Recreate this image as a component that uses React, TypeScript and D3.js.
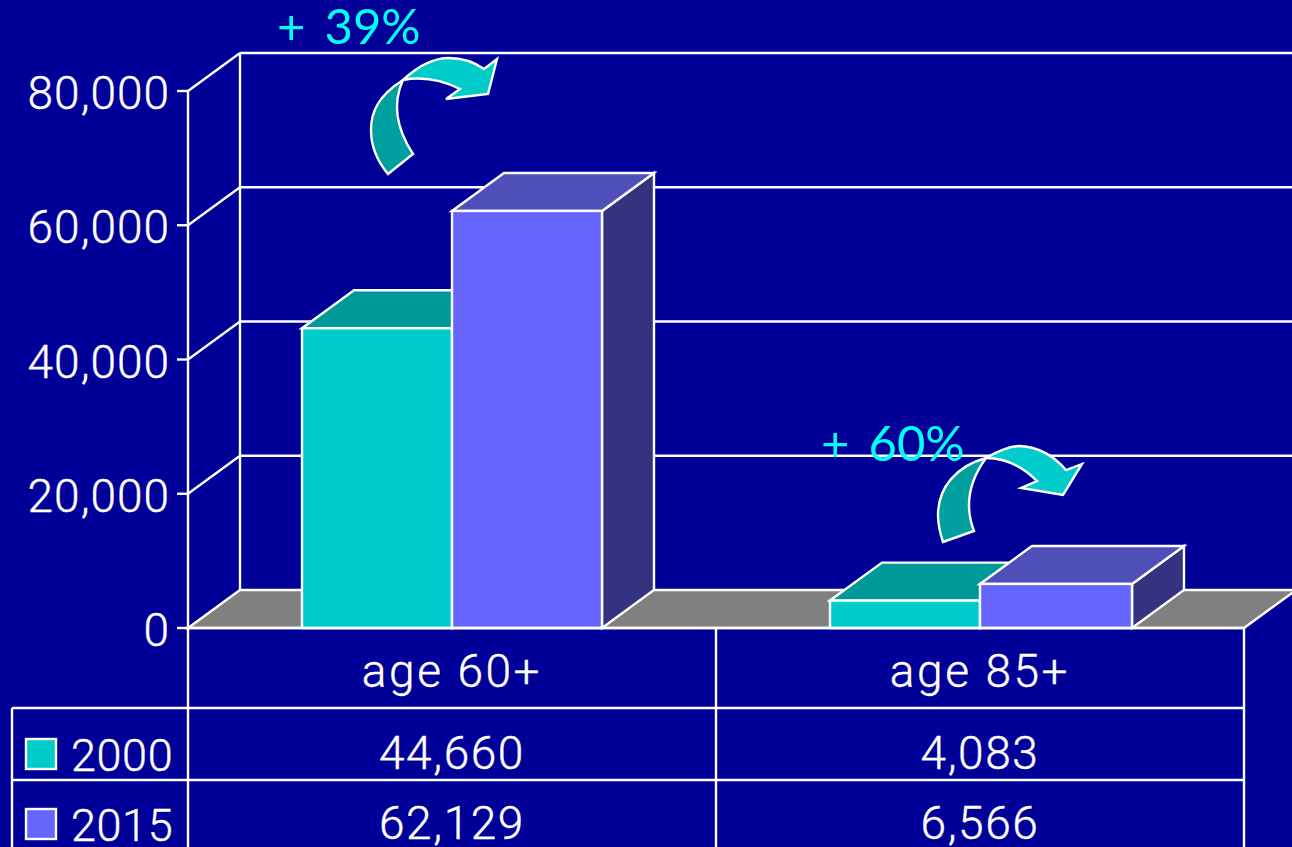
import React from "react";
import * as d3 from "d3";

const categories = ["age 60+", "age 85+"];
const seriesNames = ["2000", "2015"];
const values2000 = [44660, 4083];
const values2015 = [62129, 6566];
const yTicks = [0, 20000, 40000, 60000, 80000];
const annotations = ["+  39%", "+  60%"];

const BG = "#000099";
const FRONT = ["#00CCCC", "#6666FF"];
const TOP = ["#009999", "#4F4FB9"];
const SIDE = ["#006666", "#33337F"];
const FONT = "Roboto, sans-serif";

const W = 1292, H = 847;
const DX = 52, DY = -38;
const y = d3.scaleLinear().domain([0, 80000]).range([628, 91]);
const x0 = d3.scaleBand<string>().domain(categories).range([188, 1244]);
const barW = 150;
const fmt = d3.format(",");
const series = [values2000, values2015];

const poly = (pts: [number, number][]) => (d3.line()(pts) ?? "") + "Z";

const arrow1Dark = "M388,174 L413,154 C396,128 392,104 403,80 C378,96 371,112 371,130 C371,146 378,162 388,174Z";
const arrow1Light = "M403,80 C418,66 432,58 449,58 C462,58 474,62 484,69 L497,59 L488,94 L446,99 L460,89 C444,81 424,76 403,80Z";
const arrow2Dark = "M943,542 L974,531 C964,505 970,480 986,458 C956,466 938,488 938,515 C938,524 940,533 943,542Z";
const arrow2Light = "M986,458 C1000,450 1010,446 1020,446 C1038,447 1054,456 1066,470 L1082,464 L1063,495 L1021,488 L1037,481 C1022,466 1006,458 986,458Z";

export default function App() {
  const stroke = { stroke: "#fff", strokeWidth: 2.4 };
  const rowY = [628, 708, 780, 847];
  const xL = x0.range()[0], xR = x0.range()[1];
  return (
    <svg width={W} height={H} viewBox={`0 0 ${W} ${H}`}
      style={{ position: "fixed", left: 0, top: 0, display: "block", background: BG }} fontFamily={FONT} fontWeight={300}>
      <rect width={W} height={H} fill={BG} />
      <path d={poly([[xL, y(0)], [xL + DX, y(0) + DY], [xR + DX, y(0) + DY], [xR, y(0)]])} fill="#808080" {...stroke} />
      <line x1={xL + DX} x2={xL + DX} y1={y(80000) + DY} y2={y(0) + DY} {...stroke} />
      {yTicks.map(t => (
        <g key={t}>
          {t > 0 && <line x1={xL + DX} x2={W} y1={y(t) + DY} y2={y(t) + DY} {...stroke} />}
          {t > 0 && <line x1={xL} x2={xL + DX} y1={y(t)} y2={y(t) + DY} {...stroke} />}
          <line x1={xL - 11} x2={xL} y1={y(t)} y2={y(t)} {...stroke} />
          <text x={170} y={y(t) + 18} textAnchor="end" fontSize={46} letterSpacing={1} fill="#fff" stroke="#fff" strokeWidth={0.4}>{fmt(t)}</text>
        </g>
      ))}
      <line x1={xL} x2={xL} y1={y(80000)} y2={H} {...stroke} />
      {categories.map((c, ci) => {
        const cx = x0(c)! + x0.bandwidth() / 2;
        return (
          <g key={c}>
            {series.map((s, si) => {
              const l = cx + (si - 1) * barW, r = l + barW + (ci === 1 && si === 1 ? 2 : 0);
              const t = y(s[ci]), b = y(0);
              return (
                <g key={si}>
                  <path d={poly([[r, b], [r + DX, b + DY], [r + DX, t + DY], [r, t]])} fill={SIDE[si]} {...stroke} />
                  <path d={poly([[l, t], [l + DX, t + DY], [r + DX, t + DY], [r, t]])} fill={TOP[si]} {...stroke} />
                  <rect x={l} y={t} width={r - l} height={b - t} fill={FRONT[si]} {...stroke} />
                </g>
              );
            })}
          </g>
        );
      })}
      <line x1={xL} x2={xR} y1={rowY[0]} y2={rowY[0]} {...stroke} />
      <line x1={12} x2={xR} y1={rowY[1]} y2={rowY[1]} {...stroke} />
      <line x1={12} x2={xR} y1={rowY[2]} y2={rowY[2]} {...stroke} />
      <line x1={12} x2={12} y1={rowY[1]} y2={H} {...stroke} />
      <line x1={x0(categories[1])} x2={x0(categories[1])} y1={rowY[0]} y2={H} {...stroke} />
      <line x1={xR} x2={xR} y1={rowY[0]} y2={H} {...stroke} />
      {categories.map((c, ci) => {
        const cx = x0(c)! + x0.bandwidth() / 2;
        return (
          <g key={c} textAnchor="middle" fontSize={46} letterSpacing={1.6} fill="#fff" stroke="#fff" strokeWidth={0.4}>
            <text x={cx} y={687} letterSpacing={2.6}>{c}</text>
            <text x={cx} y={769}>{fmt(values2000[ci])}</text>
            <text x={cx} y={839}>{fmt(values2015[ci])}</text>
          </g>
        );
      })}
      {seriesNames.map((n, i) => (
        <g key={n}>
          <rect x={26} y={739 + i * 70} width={30} height={30} fill={FRONT[i]} {...stroke} />
          <text x={71} y={771 + i * 70} fontSize={45} letterSpacing={0.6} fill="#fff" stroke="#fff" strokeWidth={0.4}>{n}</text>
        </g>
      ))}
      <text x={277} y={44} fontFamily="Lato, sans-serif" fontWeight={400} fontSize={49} wordSpacing={-3} fill="#00FFFF" xmlSpace="preserve">{annotations[0]}</text>
      <text x={821} y={461} fontFamily="Lato, sans-serif" fontWeight={400} fontSize={49} wordSpacing={-3} fill="#00FFFF" xmlSpace="preserve">{annotations[1]}</text>
      <path d={arrow1Light} fill="#00CCCC" {...stroke} />
      <path d={arrow1Dark} fill="#00A0A0" {...stroke} />
      <path d={arrow2Light} fill="#00CCCC" {...stroke} />
      <path d={arrow2Dark} fill="#00A0A0" {...stroke} />
    </svg>
  );
}
